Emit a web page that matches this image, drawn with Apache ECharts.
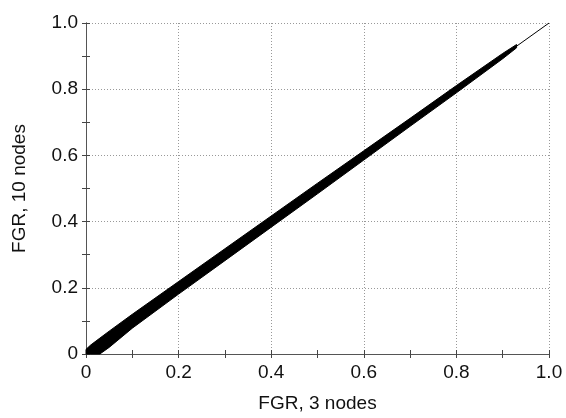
<!DOCTYPE html>
<html><head><meta charset="utf-8">
<script src="https://cdn.jsdelivr.net/npm/echarts@6/dist/echarts.min.js"></script>
<style>html,body{margin:0;padding:0;background:#fff}#c{width:566px;height:418px}</style>
</head><body><div id="c"></div>
<script>
// Band of points (FGR 3 nodes vs FGR 10 nodes)
var bandX     = [0,     0.01,  0.03,  0.05,  0.1,   0.2,   0.3,   0.4,   0.5,   0.6,   0.7,   0.8,   0.9,   0.93];
var bandUpper = [0.014, 0.027, 0.048, 0.069, 0.12,  0.219, 0.318, 0.417, 0.516, 0.614, 0.712, 0.811, 0.908, 0.935];
var bandLower = [0,     0,     0,     0.02,  0.078, 0.181, 0.282, 0.383, 0.484, 0.586, 0.688, 0.789, 0.892, 0.925];
// Reference line y = x
var refLine = [[0, 0], [1, 1]];

var font = 'Liberation Sans, Arial, sans-serif';
function fmt(v){ return v === 0 ? '0' : v.toFixed(1); }
var axisCommon = {
  type: 'value', min: 0, max: 1, interval: 0.2,
  axisLine: {show: true, lineStyle: {color: '#555', width: 1}},
  axisTick: {show: true, inside: true, length: 4, lineStyle: {color: '#444'}},
  minorTick: {show: true, splitNumber: 2, length: 4, lineStyle: {color: '#444'}},
  splitLine: {show: true, lineStyle: {color: '#999', type: [1, 2], width: 1}}
};
var chart = echarts.init(document.getElementById('c'), null, {renderer: 'canvas'});
chart.setOption({
  animation: false,
  backgroundColor: '#fff',
  grid: {left: 86, right: 17, top: 23, bottom: 64, containLabel: false, outerBoundsMode: 'none'},
  xAxis: [
    Object.assign({}, axisCommon, {
      position: 'bottom',
      name: 'FGR, 3 nodes', nameLocation: 'middle', nameGap: 40,
      nameTextStyle: {fontFamily: font, fontSize: 19, color: '#111'},
      axisLabel: {formatter: fmt, fontFamily: font, fontSize: 19, color: '#111', margin: 9}
    }),
    Object.assign({}, axisCommon, {
      position: 'top', splitLine: {show: false}, axisLabel: {show: false}
    })
  ],
  yAxis: [
    Object.assign({}, axisCommon, {
      position: 'left',
      name: 'FGR, 10 nodes', nameLocation: 'middle', nameGap: 57,
      nameTextStyle: {fontFamily: font, fontSize: 19, color: '#111'},
      axisLabel: {formatter: fmt, fontFamily: font, fontSize: 19, color: '#111', margin: 8}
    }),
    Object.assign({}, axisCommon, {
      position: 'right', splitLine: {show: false}, axisLabel: {show: false}
    })
  ],
  series: [
    {
      type: 'line', data: refLine, symbol: 'none', silent: true,
      lineStyle: {color: '#000', width: 1}, z: 3
    },
    {
      type: 'custom', data: [0], silent: true, z: 4,
      renderItem: function (params, api) {
        var pts = [];
        for (var i = 0; i < bandX.length; i++) pts.push(api.coord([bandX[i], bandUpper[i]]));
        for (var j = bandX.length - 1; j >= 0; j--) pts.push(api.coord([bandX[j], bandLower[j]]));
        return {type: 'polygon', shape: {points: pts}, style: {fill: '#000', stroke: '#000', lineWidth: 1}};
      }
    }
  ]
});
</script></body></html>
